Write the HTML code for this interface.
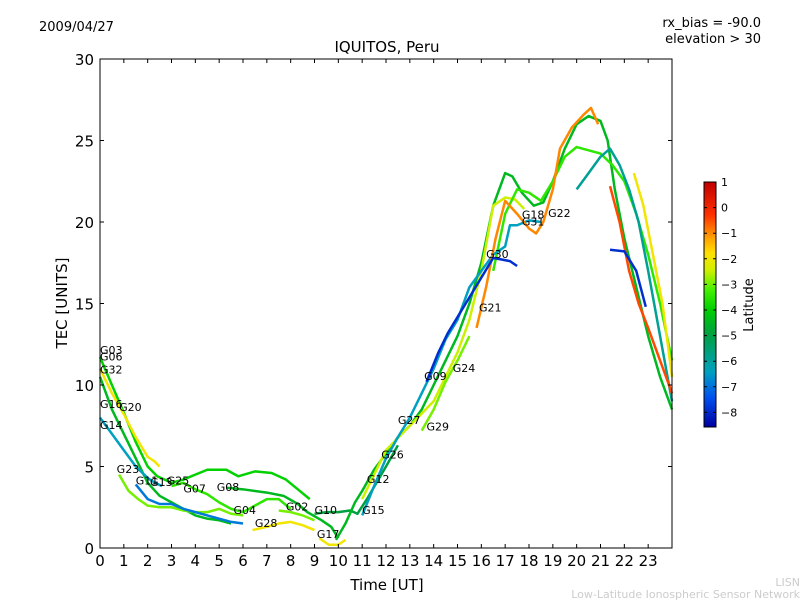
<!DOCTYPE html>
<html><head><meta charset="utf-8"><style>
body{margin:0;background:#fff;font-family:"Liberation Sans","DejaVu Sans",sans-serif}
svg text{font-family:"DejaVu Sans","Liberation Sans",sans-serif}
</style></head><body>
<svg id="c" width="800" height="600" xmlns="http://www.w3.org/2000/svg">
<defs><linearGradient id="jet" x1="0" y1="1" x2="0" y2="0">
<stop offset="0" stop-color="#0000a0"/><stop offset="0.12" stop-color="#0050f0"/><stop offset="0.225" stop-color="#00a0c0"/><stop offset="0.38" stop-color="#00a040"/><stop offset="0.48" stop-color="#00d000"/><stop offset="0.556" stop-color="#40f000"/><stop offset="0.64" stop-color="#d0f000"/><stop offset="0.71" stop-color="#ffe000"/><stop offset="0.773" stop-color="#ffa000"/><stop offset="0.866" stop-color="#ff3000"/><stop offset="1" stop-color="#c00000"/></linearGradient></defs>
<text x="39" y="31" font-size="13">2009/04/27</text>
<text x="761" y="27" font-size="13" text-anchor="end">rx_bias = -90.0</text>
<text x="761" y="43" font-size="13" text-anchor="end">elevation &gt; 30</text>
<text x="387" y="52" font-size="15" text-anchor="middle">IQUITOS, Peru</text>
<text x="387" y="590" font-size="15" text-anchor="middle">Time [UT]</text>
<text x="67" y="303" font-size="15" text-anchor="middle" transform="rotate(-90 67 303)">TEC [UNITS]</text>
<g id="plot"></g>
<g id="axes"></g>
<rect x="704" y="182" width="12" height="245" fill="url(#jet)" stroke="#000" stroke-width="1"/>
<g id="cbt"></g>
<text x="753" y="305" font-size="13" text-anchor="middle" transform="rotate(-90 753 305)">Latitude</text>
<text x="800" y="586" font-size="11" fill="#ccc" text-anchor="end">LISN</text>
<text x="800" y="598" font-size="11" fill="#ccc" text-anchor="end">Low-Latitude Ionospheric Sensor Network</text>
</svg>
<script>
const xTicks=[0,1,2,3,4,5,6,7,8,9,10,11,12,13,14,15,16,17,18,19,20,21,22,23];
const yTicks=[0,5,10,15,20,25,30];
const cbTicks=[1,0,-1,-2,-3,-4,-5,-6,-7,-8];
const seriesNames=["G03","G06","G32","G14","G23","G11","G08","G28","G02","G10","G17","G25","A","B","C","D","E","F","G","H","I","J","K"];
const seriesLat=[-4,-2,-4.5,-6.5,-3,-7,-4.5,-2,-3,-5,-2,-3.5,-4.5,-2.5,-3.5,-6.5,-6,-1,-2,-0.5,-8,-3,-8];
const seriesData=[
[[0,11.7],[0.5,10],[1,8.3],[1.5,6.5],[2,5],[2.4,4.4],[3,4.0],[3.5,4.2],[4,4.5],[4.5,4.8],[5.3,4.8],[5.8,4.4],[6.5,4.7],[7.2,4.6],[7.8,4.2],[8.3,3.6],[8.8,3.0]],
[[0,11],[0.5,9.5],[1,8.2],[1.5,6.8],[2,5.6],[2.3,5.3],[2.5,5.0]],
[[0,10.5],[0.5,8.5],[1,7],[1.5,5.5],[2,4],[2.5,3.2],[3,2.8],[3.5,2.4],[4,2],[4.5,1.8],[5,1.7],[5.5,1.5]],
[[0,8],[0.5,7],[1,6],[1.5,5],[2,4.3],[2.3,4],[2.6,3.8]],
[[0.8,4.5],[1.2,3.5],[1.6,3],[2,2.6],[2.5,2.5],[3,2.5],[3.5,2.3],[4,2.2],[4.5,2.2],[5,2.4],[5.5,2.1],[6,2.0]],
[[1.5,3.9],[2,3],[2.5,2.7],[3,2.7],[3.5,2.4],[4,2.2],[4.5,2.0],[5,1.8],[5.5,1.6],[6,1.5]],
[[5.3,3.7],[6,3.6],[7,3.4],[7.7,3.2],[8.3,2.7],[8.7,2.2],[9.3,1.7],[9.7,1.3],[10,0.6]],
[[6.4,1.1],[7,1.3],[7.5,1.5],[8,1.6],[8.5,1.4],[9,1.1]],
[[7.5,2.3],[8,2.2],[8.5,2.0],[9,1.7]],
[[9,2.1],[9.5,2.2],[10,2.2],[10.5,2.3],[10.8,2.1],[11.2,3],[11.6,4],[12,5],[12.5,6.3]],
[[9.2,0.6],[9.6,0.2],[10,0.2],[10.3,0.5]],
[[3,3.8],[3.5,4],[4,3.6],[4.5,3.3],[5,2.8],[5.5,2.4],[6,2.2],[6.5,2.6],[7,3.0],[7.5,3.0],[8,2.4]],
[[9.9,0.5],[10.3,1.5],[10.7,2.8],[11,3.5],[11.5,4.8],[12,5.8],[12.5,6.8],[13,7.5],[13.5,8.5],[14,10],[14.5,11.5],[15,13],[15.5,15],[16,17.5],[16.5,21],[17,23],[17.3,22.8],[17.7,21.8],[18.2,21],[18.6,21.2],[19,22.5],[19.5,24.5],[20,26],[20.5,26.5],[21,26.2],[21.3,25],[21.6,22],[22,19],[22.5,16],[23,13],[23.5,10.5],[24,8.5]],
[[11,3],[11.5,4.5],[12,6],[13,7.5],[14,9],[14.5,10.5],[15,12],[15.5,14],[16,17],[16.5,21],[17,21.5],[17.4,21.4],[17.8,20.8]],
[[16.5,17],[17,20.5],[17.5,22],[18,21.8],[18.5,21.3],[19,22.5],[19.5,24],[20,24.6],[20.5,24.4],[21,24.2],[21.5,23.5],[22,22.5],[22.5,20.5],[23,18],[23.5,15],[24,11.5]],
[[11,2],[11.5,3.8],[12,5.5],[12.5,6.8],[13,8],[13.5,9.5],[14,11],[14.5,12.8],[15,14],[15.5,16],[16,17],[16.5,18],[17,18.5],[17.2,19.8],[17.5,19.8],[18,20.1],[18.5,20]],
[[20,22],[20.5,23],[21,24],[21.4,24.5],[21.8,23.5],[22.2,22],[22.6,20],[23,17],[23.5,13],[24,9]],
[[15.8,13.5],[16.2,16],[16.6,19],[17,21.3],[17.5,20.5],[18,19.6],[18.3,19.3],[18.6,20],[19,22],[19.3,24.5],[19.8,25.8],[20.3,26.6],[20.6,27],[20.9,26]],
[[22.4,23],[22.8,21],[23.2,18],[23.6,15],[24,10.5]],
[[21.4,22.2],[21.8,20],[22.2,17],[22.6,15],[23,13.5],[23.5,11.5],[24,9.5]],
[[21.4,18.3],[22,18.2],[22.5,17],[22.9,14.8]],
[[13.5,7.2],[14,8.5],[14.5,10.2],[15,11.5],[15.5,13]],
[[13.7,10.2],[14.2,12],[14.6,13.2],[16.5,17.8],[17.2,17.6],[17.5,17.3]]
];
const labelNames=["G03","G06","G32","G16","G20","G14","G23","G11","G13","G25","G07","G08","G04","G28","G02","G10","G17","G15","G12","G26","G27","G29","G09","G24","G21","G30","G18","G31","G22"];
const labelHour=[0,0,0,0,0.8,0,0.7,1.5,2.1,2.8,3.5,4.9,5.6,6.5,7.8,9,9.1,11,11.2,11.8,12.5,13.7,13.6,14.8,15.9,16.2,17.7,17.7,18.8];
const labelTec=[11.9,11.5,10.7,8.6,8.4,7.3,4.6,3.9,3.8,3.9,3.4,3.5,2.1,1.3,2.3,2.1,0.6,2.1,4,5.5,7.6,7.2,10.3,10.8,14.5,17.8,20.2,19.8,20.3];
const NS="http://www.w3.org/2000/svg";
const X0=100,X1=672,Y0=548,Y1=59;
const xs=h=>X0+h*(X1-X0)/24, ys=v=>Y0-v*(Y0-Y1)/30;
const cmT=[0,0.12,0.225,0.38,0.48,0.556,0.64,0.71,0.773,0.866,1];
const cmC=[[0,0,160],[0,80,240],[0,160,192],[0,160,64],[0,208,0],[64,240,0],[208,240,0],[255,224,0],[255,160,0],[255,48,0],[192,0,0]];
function cmap(t){t=Math.max(0,Math.min(1,t));for(let i=1;i<cmT.length;i++){if(t<=cmT[i]){const f=(t-cmT[i-1])/(cmT[i]-cmT[i-1]);const a=cmC[i-1],b=cmC[i];return `rgb(${Math.round(a[0]+(b[0]-a[0])*f)},${Math.round(a[1]+(b[1]-a[1])*f)},${Math.round(a[2]+(b[2]-a[2])*f)})`;}}return 'rgb(192,0,0)';}
const plot=document.getElementById('plot'),axes=document.getElementById('axes'),cbt=document.getElementById('cbt');
seriesData.forEach((pts,i)=>{
  const p=document.createElementNS(NS,'polyline');
  p.setAttribute('points',pts.map(q=>xs(q[0])+','+ys(q[1])).join(' '));
  p.setAttribute('fill','none');p.setAttribute('stroke-width','2.5');p.setAttribute('stroke-linejoin','round');
  p.setAttribute('stroke',cmap((seriesLat[i]+8.68)/9.68));
  
  
  plot.appendChild(p);
});
labelNames.forEach((n,i)=>{
  const t=document.createElementNS(NS,'text');
  t.setAttribute('x',xs(labelHour[i]));t.setAttribute('y',ys(labelTec[i]));t.setAttribute('font-size','11');t.textContent=n;
  
  
  plot.appendChild(t);
});
const fr=document.createElementNS(NS,'rect');
fr.setAttribute('x',X0);fr.setAttribute('y',Y1);fr.setAttribute('width',X1-X0);fr.setAttribute('height',Y0-Y1);fr.setAttribute('fill','none');fr.setAttribute('stroke','#000');


axes.appendChild(fr);
xTicks.forEach(h=>{
  const x=xs(h);
  const l=document.createElementNS(NS,'path');l.setAttribute('d',`M${x} ${Y0}v-4M${x} ${Y1}v4`);l.setAttribute('stroke','#000');
  
  
  axes.appendChild(l);
  const t=document.createElementNS(NS,'text');t.setAttribute('x',x);t.setAttribute('y',Y0+18);t.setAttribute('font-size','15');t.setAttribute('text-anchor','middle');t.textContent=h;
  
  
  axes.appendChild(t);
});
yTicks.forEach(v=>{
  const y=ys(v);
  const l=document.createElementNS(NS,'path');l.setAttribute('d',`M${X0} ${y}h4M${X1} ${y}h-4`);l.setAttribute('stroke','#000');
  
  
  axes.appendChild(l);
  const t=document.createElementNS(NS,'text');t.setAttribute('x',X0-6);t.setAttribute('y',y+6);t.setAttribute('font-size','15');t.setAttribute('text-anchor','end');t.textContent=v;
  
  
  axes.appendChild(t);
});
cbTicks.forEach(v=>{
  const y=182+(1-v)*25.6;
  const l=document.createElementNS(NS,'path');l.setAttribute('d',`M704 ${y}h3M716 ${y}h-3`);l.setAttribute('stroke','#000');
  
  
  cbt.appendChild(l);
  const t=document.createElementNS(NS,'text');t.setAttribute('x',721);t.setAttribute('y',y+4);t.setAttribute('font-size','11');t.textContent=(v<0?'\u2212'+(-v):v);
  
  
  cbt.appendChild(t);
});
</script>
</body></html>
